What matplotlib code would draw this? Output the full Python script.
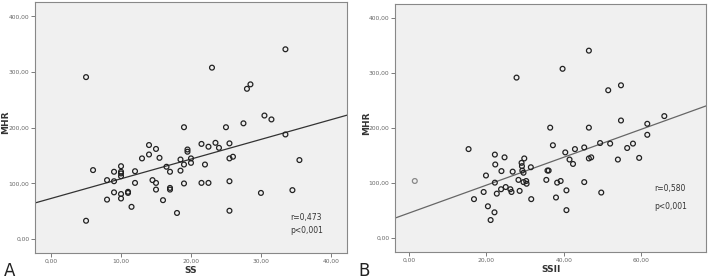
import numpy as np
import matplotlib.pyplot as plt

# panel A: SS vs MHR
ss = [5, 5, 6, 8, 8, 9, 9, 9, 10, 10, 10, 10, 10, 10, 11, 11, 11.5, 12, 12, 13,
      14, 14, 14.5, 15, 15, 15, 15.5, 16, 16.5, 17, 17, 17, 18, 18.5, 18.5, 19,
      19, 19, 19.5, 19.5, 20, 20, 21.5, 21.5, 22, 22.5, 22.5, 23, 23.5, 24, 25,
      25.5, 25.5, 25.5, 25.5, 26, 27.5, 28, 28.5, 30, 30.5, 31.5, 33.5, 33.5,
      34.5, 35.5]
mhr_a = [291, 33, 124, 106, 71, 121, 104, 84, 131, 121, 118, 113, 81, 73, 85, 83,
         58, 122, 101, 145, 169, 152, 106, 162, 101, 89, 146, 70, 130, 121, 92,
         89, 47, 143, 123, 201, 134, 100, 161, 157, 145, 137, 171, 101, 134, 166,
         101, 308, 173, 164, 201, 172, 145, 104, 51, 148, 208, 270, 278, 83, 222,
         215, 341, 188, 88, 142]

# panel B: SSII vs MHR
ssii = [15.4, 16.8, 19.3, 19.9, 20.4, 21.1, 22.1, 22.2, 22.3, 22.2, 22.7, 23.9,
        23.8, 24.7, 25.0, 26.2, 26.5, 26.8, 27.8, 28.3, 28.6, 29.1, 29.2, 29.3,
        29.6, 29.8, 29.6, 30.3, 30.4, 31.5, 31.6, 36.5, 35.5, 35.8, 36.1, 37.2,
        38.0, 38.3, 39.2, 39.7, 40.4, 40.7, 40.7, 41.5, 42.4, 42.9, 45.3, 45.3,
        46.5, 46.5, 46.5, 47.1, 49.4, 49.7, 51.5, 52.0, 54.0, 54.8, 54.8, 56.4,
        57.9, 59.5, 61.6, 61.6, 66.0]
mhr_b = [162, 71, 84, 114, 58, 33, 47, 152, 134, 101, 81, 122, 89, 147, 93, 89,
         84, 121, 292, 106, 86, 137, 131, 123, 119, 145, 102, 104, 99, 129, 71,
         201, 106, 123, 123, 169, 74, 101, 104, 308, 156, 87, 51, 143, 135, 162,
         165, 102, 341, 201, 145, 147, 173, 83, 269, 172, 143, 278, 214, 164, 172,
         146, 208, 188, 222]
outlier_b = ([1.5], [104])

stats_a = ['r=0,473', 'p<0,001']
stats_b = ['r=0,580', 'p<0,001']


def fmt(v, pos):
    return f'{v:.2f}'.replace('.', ',')


def panel(ax, x, y, xlim, xticks, xlabel, stats, stat_pos, line_color):
    ax.set_facecolor('#f0f0f0')
    ax.scatter(x, y, s=12, facecolors='none', edgecolors='#222222', linewidths=0.9, zorder=3)
    k, b = np.polyfit(x, y, 1)
    xx = np.array(xlim)
    ax.plot(xx, k * xx + b, color=line_color, lw=0.9, zorder=2)
    ax.set_xlim(xlim)
    ax.set_ylim(-25, 426)
    ax.set_xticks(xticks)
    ax.set_yticks([0, 100, 200, 300, 400])
    ax.xaxis.set_major_formatter(plt.FuncFormatter(fmt))
    ax.yaxis.set_major_formatter(plt.FuncFormatter(fmt))
    ax.tick_params(labelsize=4.3, colors='#666666', length=3, width=0.6, pad=1)
    for s in ax.spines.values():
        s.set_color('#888888')
        s.set_linewidth(0.8)
    ax.set_xlabel(xlabel, fontsize=6.5, fontweight='bold', color='#333333', labelpad=2)
    ax.set_ylabel('MHR', fontsize=6.5, fontweight='bold', color='#333333', va='center')
    ax.yaxis.set_label_coords(-0.093, 0.52)
    sx, sy1, sy2 = stat_pos
    ax.text(sx, sy1, stats[0], transform=ax.transAxes, fontsize=5.5, color='#333333', va='center')
    ax.text(sx, sy2, stats[1], transform=ax.transAxes, fontsize=5.5, color='#333333', va='center')


fig = plt.figure(figsize=(7.08, 2.79), dpi=100)
ax1 = fig.add_axes([0.0494, 0.093, 0.4407, 0.90])
ax2 = fig.add_axes([0.558, 0.097, 0.4393, 0.889])

panel(ax1, ss, mhr_a, (-2.3, 42.3), [0, 10, 20, 30, 40], 'SS', stats_a,
      (0.817, 0.143, 0.088), '#333333')
panel(ax2, ssii, mhr_b, (-3.6, 76.8), [0, 20, 40, 60], 'SSII', stats_b,
      (0.833, 0.254, 0.183), '#666666')
ax2.scatter(*outlier_b, s=12, facecolors='none', edgecolors='#888888', linewidths=0.9, zorder=3)

fig.text(0.005, 0.01, 'A', fontsize=12, color='#222222')
fig.text(0.506, 0.01, 'B', fontsize=12, color='#222222')

fig.savefig('out.png', dpi=100)
